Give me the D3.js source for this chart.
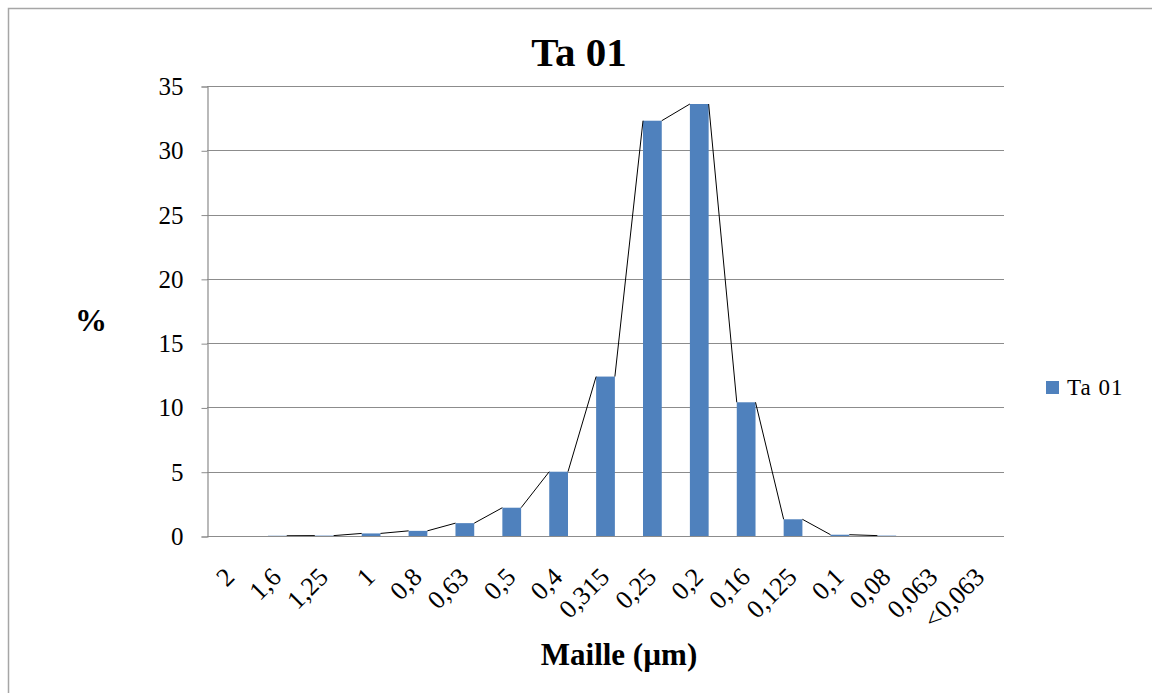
<!DOCTYPE html>
<html>
<head>
<meta charset="utf-8">
<script src="https://cdn.jsdelivr.net/npm/d3@7"></script>
<style>
  body { margin: 0; background: #fff; }
  text { font-family: "Liberation Serif", "Times New Roman", serif; }
</style>
</head>
<body>
<script>
var categories = ["2", "1,6", "1,25", "1", "0,8", "0,63", "0,5", "0,4", "0,315", "0,25", "0,2", "0,16", "0,125", "0,1", "0,08", "0,063", "<0,063"];
var values = [null, 0.02, 0.03, 0.2, 0.4, 1.0, 2.2, 5.0, 12.4, 32.3, 33.6, 10.4, 1.3, 0.1, 0.03, null, null];
var yTicks = [0, 5, 10, 15, 20, 25, 30, 35];
var seriesName = "Ta 01";

var W = 1152, H = 693;
var plotLeft = 207, plotRight = 1004, plotTop = 86, plotBottom = 536;

var svg = d3.select("body").append("svg")
	.attr("width", W)
	.attr("height", H);

// chart frame
svg.append("rect")
	.attr("x", 8.5).attr("y", 8.5)
	.attr("width", 1150).attr("height", 700)
	.style("fill", "#fff")
	.style("stroke", "#a6a6a6")
	.style("stroke-width", 1.5);

var x = d3.scaleBand()
	.domain(categories)
	.range([plotLeft, plotRight])
	.paddingInner(0.6)
	.paddingOuter(0.3);

var y = d3.scaleLinear()
	.domain([0, 35])
	.range([plotBottom, plotTop]);

// gridlines
svg.append("g")
	.selectAll("line")
	.data(yTicks.filter(function(d) { return d > 0; }))
	.enter().append("line")
		.attr("x1", plotLeft).attr("x2", plotRight)
		.attr("y1", function(d) { return Math.round(y(d)) + 0.5; })
		.attr("y2", function(d) { return Math.round(y(d)) + 0.5; })
		.style("stroke", "#8c8c8c")
		.style("stroke-width", 1.2);

// y axis
var yAxis = svg.append("g")
	.attr("transform", "translate(" + (plotLeft + 0.5) + ",0.5)")
	.call(d3.axisLeft(y).tickValues(yTicks).tickSize(6).tickPadding(18));
yAxis.select(".domain").style("stroke", "#8c8c8c").style("stroke-width", 1.2);
yAxis.selectAll(".tick line").style("stroke", "#8c8c8c");
yAxis.selectAll(".tick text")
	.style("font-family", "Liberation Serif")
	.style("font-size", "25px")
	.attr("fill", "#000");

// bars
svg.append("g")
	.selectAll("rect")
	.data(values.map(function(v, i) { return { c: categories[i], v: v }; }).filter(function(d) { return d.v !== null; }))
	.enter().append("rect")
		.attr("x", function(d) { return x(d.c); })
		.attr("y", function(d) { return y(d.v); })
		.attr("width", x.bandwidth())
		.attr("height", function(d) { return y(0) - y(d.v); })
		.style("fill", "#4f81bd");

// series lines (top-right of one bar to top-left of the next)
var segs = [];
for (var i = 0; i < values.length - 1; i++) {
	if (values[i] !== null && values[i + 1] !== null) {
		segs.push({ a: categories[i], va: values[i], b: categories[i + 1], vb: values[i + 1] });
	}
}
svg.append("g")
	.selectAll("line")
	.data(segs)
	.enter().append("line")
		.attr("x1", function(d) { return x(d.a) + x.bandwidth(); })
		.attr("y1", function(d) { return y(d.va); })
		.attr("x2", function(d) { return x(d.b); })
		.attr("y2", function(d) { return y(d.vb); })
		.style("stroke", "#000")
		.style("stroke-width", 1);

// x axis line
svg.append("line")
	.attr("x1", plotLeft).attr("x2", plotRight)
	.attr("y1", plotBottom + 0.5).attr("y2", plotBottom + 0.5)
	.style("stroke", "#8c8c8c")
	.style("stroke-width", 1.2);

// x tick labels
svg.append("g")
	.selectAll("text")
	.data(categories)
	.enter().append("text")
		.attr("transform", function(d) { return "translate(" + (x(d) + x.bandwidth() / 2 - 1) + "," + 572 + ") rotate(-45)"; })
		.attr("text-anchor", "end")
		.attr("dy", "0.35em")
		.style("font-size", "26px")
		.attr("fill", "#000")
		.text(function(d) { return d; });

// title
svg.append("text")
	.attr("x", 579).attr("y", 66)
	.attr("text-anchor", "middle")
	.style("font-size", "41px")
	.style("font-weight", "bold")
	.text(seriesName);

// y axis title
svg.append("text")
	.attr("x", 91).attr("y", 331)
	.attr("text-anchor", "middle")
	.style("font-size", "32px")
	.style("font-weight", "bold")
	.text("%");

// x axis title
svg.append("text")
	.attr("x", 619).attr("y", 665)
	.attr("text-anchor", "middle")
	.style("font-size", "31px")
	.style("font-weight", "bold")
	.text("Maille (µm)");

// legend
var legend = svg.append("g").attr("transform", "translate(1046,381)");
legend.append("rect")
	.attr("width", 13).attr("height", 13)
	.style("fill", "#4f81bd");
legend.append("text")
	.attr("x", 21).attr("y", 14)
	.style("font-size", "23px")
	.style("letter-spacing", "1px")
	.text(seriesName);
</script>
</body>
</html>
